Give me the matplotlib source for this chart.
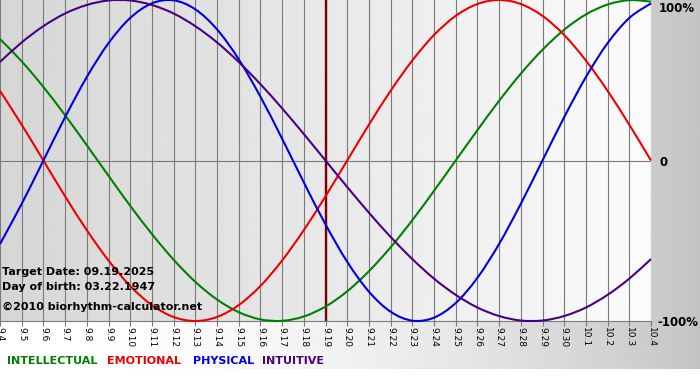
import numpy as np
import matplotlib
matplotlib.use("Agg")
import matplotlib.pyplot as plt
from matplotlib.path import Path
from matplotlib.patches import PathPatch

# ---------------- data ----------------
dates = ["9.4", "9.5", "9.6", "9.7", "9.8", "9.9", "9.10", "9.11", "9.12", "9.13",
         "9.14", "9.15", "9.16", "9.17", "9.18", "9.19", "9.20", "9.21", "9.22", "9.23",
         "9.24", "9.25", "9.26", "9.27", "9.28", "9.29", "9.30", "10.1", "10.2", "10.3", "10.4"]
intellectual = [75.6, 61.8, 45.8, 28.2, 9.5, -9.5, -28.2, -45.8, -61.8, -75.6,
                -86.6, -94.5, -99.0, -99.9, -97.2, -91.0, -81.5, -69.0, -54.1, -37.2,
                -18.9, 0.0, 18.9, 37.2, 54.1, 69.0, 81.5, 91.0, 97.2, 99.9, 99.0]
emotional = [43.4, 22.3, 0.0, -22.3, -43.4, -62.3, -78.2, -90.1, -97.5, -100.0,
             -97.5, -90.1, -78.2, -62.3, -43.4, -22.3, 0.0, 22.3, 43.4, 62.3,
             78.2, 90.1, 97.5, 100.0, 97.5, 90.1, 78.2, 62.3, 43.4, 22.3, 0.0]
physical = [-52.0, -27.0, 0.0, 27.0, 52.0, 73.1, 88.8, 97.9, 99.8, 94.2,
            81.7, 63.1, 39.8, 13.6, -13.6, -39.8, -63.1, -81.7, -94.2, -99.8,
            -97.9, -88.8, -73.1, -52.0, -27.0, 0.0, 27.0, 52.0, 73.1, 88.8, 97.9]
intuitive = [61.4, 73.6, 83.7, 91.6, 96.9, 99.7, 99.7, 96.9, 91.6, 83.7,
             73.6, 61.4, 47.6, 32.5, 16.5, 0.0, -16.5, -32.5, -47.6, -61.4,
             -73.6, -83.7, -91.6, -96.9, -99.7, -99.7, -96.9, -91.6, -83.7, -73.6, -61.4]
target_date = "9.19"
y_labels = ["100%", "0", "-100%"]
legend_names = ["INTELLECTUAL", "EMOTIONAL", "PHYSICAL", "INTUITIVE"]
info_lines = ["Target Date: 09.19.2025", "Day of birth: 03.22.1947",
              "\u00a92010 biorhythm-calculator.net"]


def smooth_path(xs, ys):
    """Catmull-Rom curve through the data points, as cubic Bezier segments."""
    p = np.column_stack([xs, ys]).astype(float)
    pe = np.vstack([p[0], p, p[-1]])
    verts = [p[0]]
    codes = [Path.MOVETO]
    for i in range(len(p) - 1):
        p0, p1, p2, p3 = pe[i], pe[i + 1], pe[i + 2], pe[i + 3]
        c1 = p1 + (p2 - p0) / 6.0
        c2 = p2 - (p3 - p1) / 6.0
        verts += [c1, c2, p2]
        codes += [Path.CURVE4] * 3
    return Path(verts, codes)


# ---------------- figure ----------------
W, H = 700, 380
fig = plt.figure(figsize=(7, 3.8), dpi=100)
fig.patch.set_facecolor("white")

# background gradient (white -> gray to the right)
bg = fig.add_axes([0, 0, 1, 1], zorder=-10)
bg.set_xlim(0, W)
bg.set_ylim(H, 0)
bg.axis("off")
xx = np.linspace(0, 1, 700)
vals = (255 - 59 * xx ** 2) / 255.0
bg.imshow(np.tile(vals, (2, 1)), cmap="gray", vmin=0, vmax=1,
          extent=[0, W, 369, 0], aspect="auto", interpolation="bilinear")

# main plot area
pl, pr, pt, pb = 0, 651, 0, 321
ax = fig.add_axes([pl / W, 1 - pb / H, (pr - pl) / W, (pb - pt) / H])
n = len(dates)
x = np.arange(n)
grad = np.linspace(0xd6, 0xfb, 256) / 255.0
ax.imshow(np.tile(grad, (2, 1)), cmap="gray", vmin=0, vmax=1,
          extent=[0, n - 1, -100, 100], aspect="auto", zorder=0,
          interpolation="bilinear")
ax.set_xlim(0, n - 1)
ax.set_ylim(-100, 100)

ax.set_xticks(x)
ax.set_xticklabels(dates)
ax.set_yticks([])
ax.grid(axis="x", color="#7a7a7a", lw=0.8, zorder=1)
ax.axhline(0, color="#7a7a7a", lw=0.8, zorder=1)
for s in ["top", "left", "right"]:
    ax.spines[s].set_visible(False)
ax.spines["bottom"].set_color("#7a7a7a")
ax.spines["bottom"].set_linewidth(0.8)
ax.tick_params(axis="x", length=3.5, color="#7a7a7a", width=0.8, pad=1,
               labelsize=6.5, labelrotation=-90, labelcolor="black")

ax.axvline(dates.index(target_date), color="#7a0000", lw=1.7, zorder=2)

colors = ["#008000", "#ee0000", "#0000e0", "#4b0082"]
series = [intellectual, emotional, physical, intuitive]
for vals_s, c in zip(series, colors):
    patch = PathPatch(smooth_path(x, vals_s), fill=False, edgecolor=c, lw=1.5,
                      zorder=3, clip_on=False, transform=ax.transData)
    ax.add_patch(patch)

# right-side labels
fs_r = 8.5
fig.text(659 / W, 1 - 8 / H, y_labels[0], fontsize=fs_r, weight="bold",
         ha="left", va="center")
fig.text(659 / W, 1 - 162 / H, y_labels[1], fontsize=fs_r, weight="bold",
         ha="left", va="center")
fig.text(657 / W, 1 - 322 / H, y_labels[2], fontsize=fs_r, weight="bold",
         ha="left", va="center")

# info texts
for txt, yy in zip(info_lines, [272, 287, 307]):
    fig.text(2 / W, 1 - yy / H, txt, fontsize=8, weight="bold",
             ha="left", va="center", color="black")

# legend
for name, c, xp in zip(legend_names, colors, [7, 107, 193, 262]):
    fig.text(xp / W, 1 - 361 / H, name, fontsize=8, weight="bold",
             ha="left", va="center", color=c)

fig.savefig("out.png", dpi=100)
